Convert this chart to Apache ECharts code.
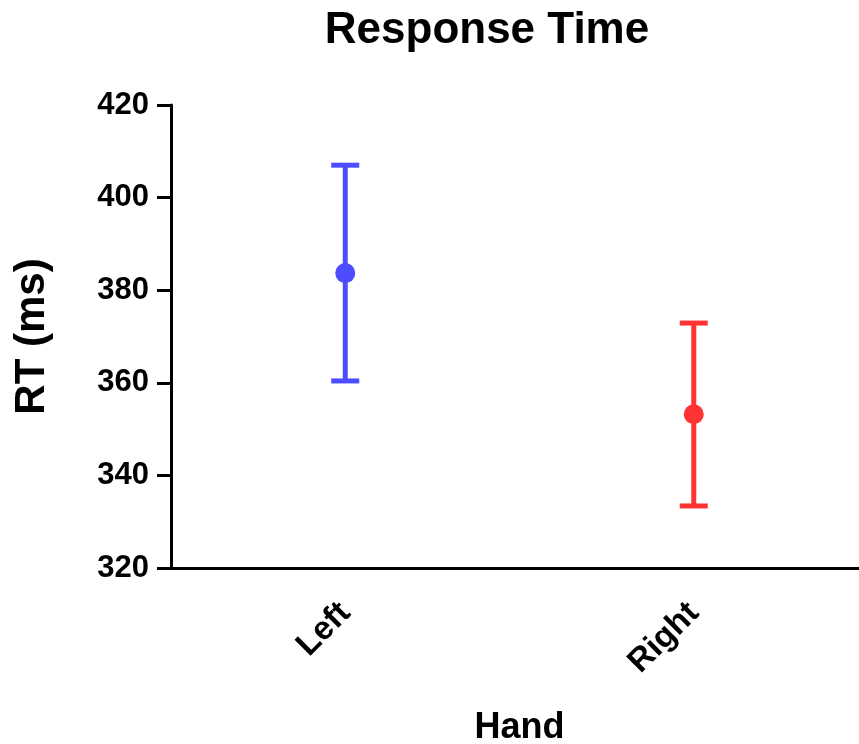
<!DOCTYPE html>
<html><head><meta charset="utf-8">
<script src="https://cdn.jsdelivr.net/npm/echarts@6/dist/echarts.min.js"></script>
<style>html,body{margin:0;padding:0;background:#fff}#c{width:859px;height:744px}</style>
</head><body><div id="c"></div>
<script>
const categories = ['Left', 'Right'];
const means = [383.7, 353.2];
const upper = [407.0, 372.9];
const lower = [360.4, 333.4];
const colors = ['#4d4dff', '#ff3333'];
const yTicks = [320, 340, 360, 380, 400, 420];

const chart = echarts.init(document.getElementById('c'));
const font = 'Liberation Sans, Arial, sans-serif';
const errData = categories.map((c, i) => [i, lower[i], upper[i]]);
const ptData = categories.map((c, i) => ({value: [i, means[i]], itemStyle: {color: colors[i], opacity: 1}}));

chart.setOption({
  animation: false,
  title: {text: 'Response Time', left: 482, top: 4, textAlign: 'center',
    textStyle: {fontFamily: font, fontWeight: 'bold', fontSize: 44, color: '#000'}},
  grid: {left: 171, right: -9, top: 105, bottom: 176, outerBoundsMode: 'none', containLabel: false},
  xAxis: {
    type: 'category', data: categories,
    name: 'Hand', nameLocation: 'middle', nameGap: 142,
    nameTextStyle: {fontFamily: font, fontWeight: 'bold', fontSize: 36, color: '#000'},
    axisLine: {lineStyle: {color: '#000', width: 3}},
    axisTick: {alignWithLabel: true, length: 14, lineStyle: {color: '#000', width: 3}},
    axisLabel: {rotate: 45, margin: 40, fontFamily: font, fontWeight: 'bold', fontSize: 33, color: '#000'},
    splitLine: {show: false}
  },
  yAxis: {
    type: 'value', min: 320, max: 420, interval: 20,
    name: 'RT (ms)', nameLocation: 'middle', nameGap: 118,
    nameTextStyle: {fontFamily: font, fontWeight: 'bold', fontSize: 42, color: '#000'},
    axisLine: {show: true, lineStyle: {color: '#000', width: 3}},
    axisTick: {show: true, length: 14, lineStyle: {color: '#000', width: 3}},
    axisLabel: {margin: 22, fontFamily: font, fontWeight: 'bold', fontSize: 31, color: '#000',
      formatter: v => yTicks.includes(v) ? String(v) : ''},
    splitLine: {show: false}
  },
  series: [
    {
      type: 'custom',
      data: errData,
      renderItem: function (params, api) {
        const i = api.value(0);
        const lo = api.coord([i, api.value(1)]);
        const hi = api.coord([i, api.value(2)]);
        const hw = 14;
        const st = {stroke: colors[i], lineWidth: 5, fill: null};
        return {type: 'group', children: [
          {type: 'line', shape: {x1: lo[0], y1: lo[1], x2: hi[0], y2: hi[1]}, style: st},
          {type: 'line', shape: {x1: hi[0] - hw, y1: hi[1], x2: hi[0] + hw, y2: hi[1]}, style: st},
          {type: 'line', shape: {x1: lo[0] - hw, y1: lo[1], x2: lo[0] + hw, y2: lo[1]}, style: st}
        ]};
      },
      z: 2
    },
    {
      type: 'scatter', data: ptData, symbol: 'circle', symbolSize: 20, z: 3
    }
  ]
});
</script></body></html>
